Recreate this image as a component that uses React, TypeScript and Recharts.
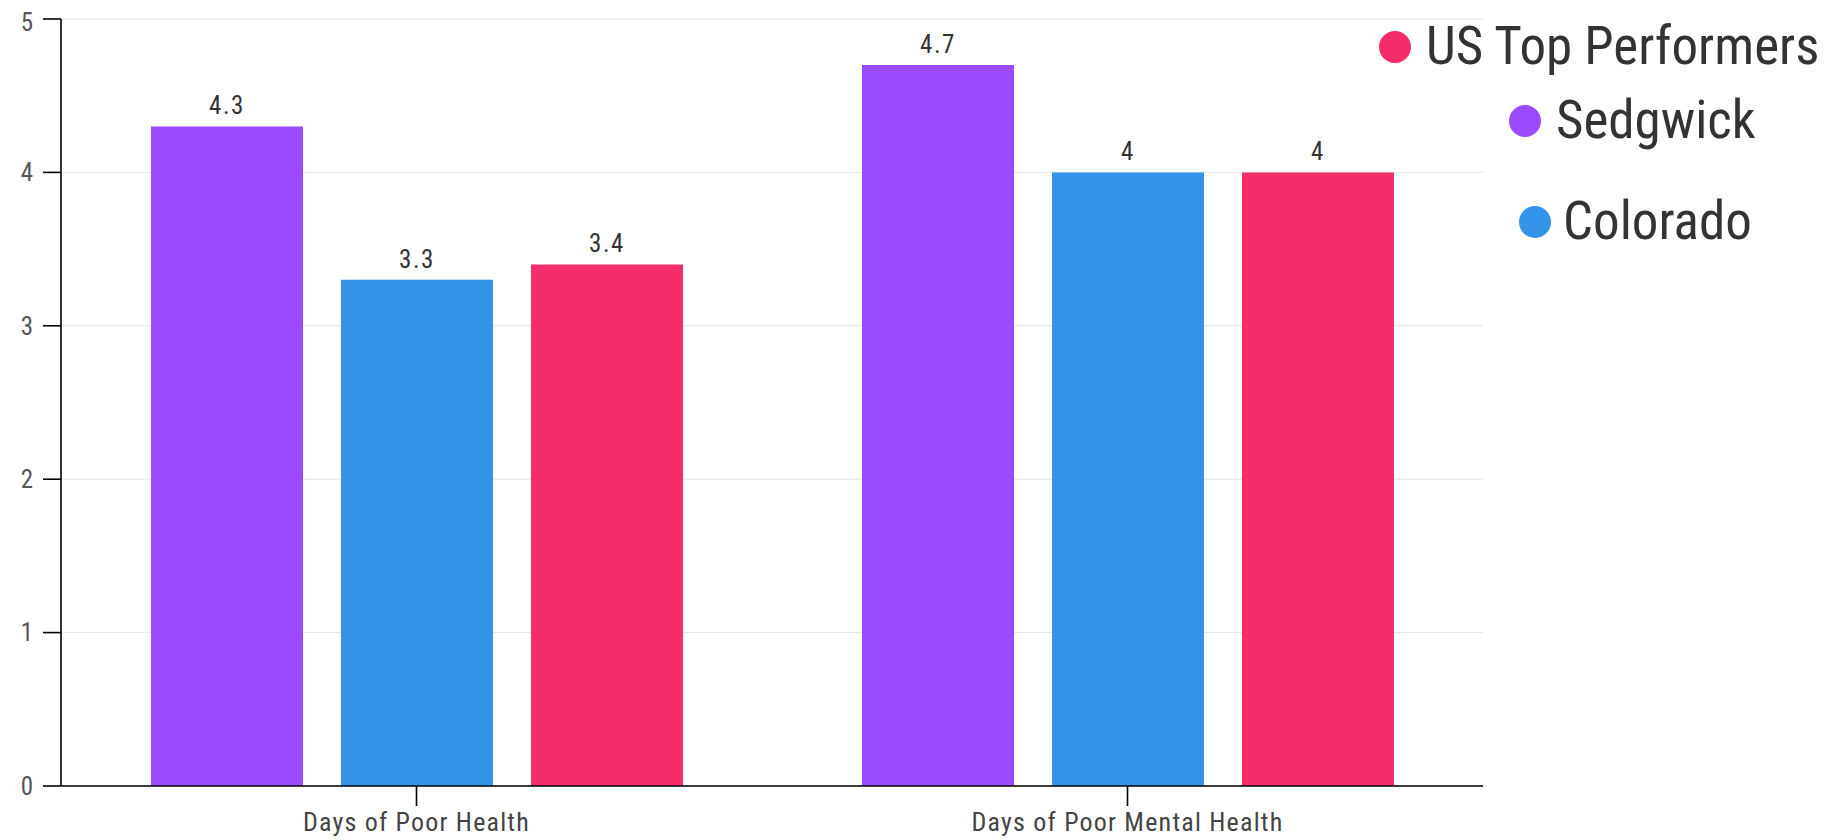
import React from 'react';
import { BarChart, Bar, XAxis, YAxis, CartesianGrid, LabelList } from 'recharts';

const categories = ['Days of Poor Health', 'Days of Poor Mental Health'];
const sedgwick = [4.3, 4.7];
const colorado = [3.3, 4];
const usTop = [3.4, 4];
const yTicks = [0, 1, 2, 3, 4, 5];

const FONT = "'Roboto Condensed', 'Liberation Sans Narrow', 'DejaVu Sans Condensed', Roboto, sans-serif";

const series = [
  { key: 'sedgwick', name: 'Sedgwick', color: '#9a4bff' },
  { key: 'colorado', name: 'Colorado', color: '#3594e9' },
  { key: 'usTop', name: 'US Top Performers', color: '#f52e6b' },
];

// legend items are scattered in the original, so place them by hand
const legendSpots = [
  { key: 'usTop', left: 1371, top: 12 },
  { key: 'sedgwick', left: 1501, top: 86 },
  { key: 'colorado', left: 1511, top: 187 },
];

const data = categories.map((name, i) => ({
  name,
  sedgwick: sedgwick[i],
  colorado: colorado[i],
  usTop: usTop[i],
}));

const axisStroke = { stroke: '#000', strokeWidth: 1.6 };

function ChartLegend() {
  return (
    <>
      {legendSpots.map((spot) => {
        const s = series.find((x) => x.key === spot.key)!;
        return (
          <div
            key={spot.key}
            style={{
              position: 'absolute',
              left: spot.left,
              top: spot.top,
              display: 'flex',
              alignItems: 'center',
              height: 53,
              fontFamily: FONT,
              fontSize: 53,
              lineHeight: '53px',
              color: '#333',
              whiteSpace: 'nowrap',
            }}
          >
            <span
              style={{
                display: 'inline-block',
                width: 32,
                height: 32,
                borderRadius: '50%',
                background: s.color,
                marginRight: s.key === 'colorado' ? 12 : 15,
              }}
            />
            <span>{s.name}</span>
          </div>
        );
      })}
    </>
  );
}

export default function App() {
  return (
    <div style={{ position: 'relative', width: 1815, height: 832 }}>
      <BarChart
        width={1815}
        height={832}
        data={data}
        margin={{ top: 11, right: 340, bottom: 4, left: 0 }}
        barCategoryGap={90}
        barGap={38}
      >
        <CartesianGrid vertical={false} stroke="#e4e4e4" />
        <XAxis
          dataKey="name"
          height={50}
          tickSize={20}
          tickMargin={7}
          axisLine={axisStroke}
          tickLine={axisStroke}
          tick={{ fill: '#444', fontSize: 26, fontFamily: FONT, letterSpacing: 1.2 }}
        />
        <YAxis
          width={53}
          domain={[0, 5]}
          ticks={yTicks}
          tickSize={18}
          tickMargin={10}
          axisLine={axisStroke}
          tickLine={axisStroke}
          tick={{ fill: '#555', fontSize: 25, fontFamily: FONT }}
        />
        {series.map((s) => (
          <Bar key={s.key} dataKey={s.key} name={s.name} fill={s.color} isAnimationActive={false}>
            <LabelList
              dataKey={s.key}
              position="top"
              offset={12}
              style={{ fill: '#333', fontSize: 25, fontFamily: FONT, letterSpacing: 1.5 }}
            />
          </Bar>
        ))}
      </BarChart>
      <ChartLegend />
    </div>
  );
}
